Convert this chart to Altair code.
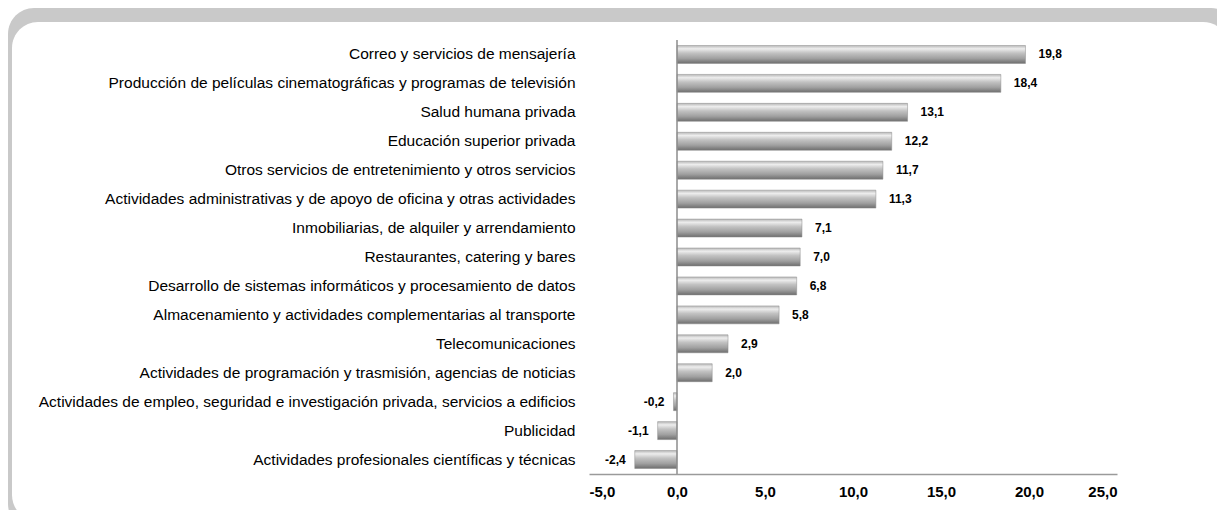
import altair as alt
import pandas as pd

categories = [
    "Correo y servicios de mensajería",
    "Producción de películas cinematográficas y programas de televisión",
    "Salud humana privada",
    "Educación superior privada",
    "Otros servicios de entretenimiento y otros servicios",
    "Actividades administrativas y de apoyo de oficina y otras actividades",
    "Inmobiliarias, de alquiler y arrendamiento",
    "Restaurantes, catering y bares",
    "Desarrollo de sistemas informáticos y procesamiento de datos",
    "Almacenamiento y actividades complementarias al transporte",
    "Telecomunicaciones",
    "Actividades de programación y trasmisión, agencias de noticias",
    "Actividades de empleo, seguridad e investigación privada, servicios a edificios",
    "Publicidad",
    "Actividades profesionales científicas y técnicas",
]
values = [19.8, 18.4, 13.1, 12.2, 11.7, 11.3, 7.1, 7.0, 6.8, 5.8, 2.9, 2.0, -0.2, -1.1, -2.4]
x_ticks = [-5, 0, 5, 10, 15, 20, 25]

df = pd.DataFrame({"cat": categories, "val": values})
df["lab"] = [f"{v:.1f}".replace(".", ",") for v in values]

W, H = 528, 434
PAD = {"left": 581, "top": 32, "right": 100, "bottom": 36}

frame_df = pd.DataFrame({"k": [0]})
outer = alt.Chart(frame_df).mark_rect(color="#c9c9c9", cornerRadius=26).encode(
    x=alt.value(-PAD["left"]), x2=alt.value(W + PAD["right"] + 20),
    y=alt.value(-PAD["top"]), y2=alt.value(H + PAD["bottom"] + 20),
)
inner = alt.Chart(frame_df).mark_rect(color="white", cornerRadius=26).encode(
    x=alt.value(-PAD["left"] + 4), x2=alt.value(W + PAD["right"] + 12),
    y=alt.value(-PAD["top"] + 14), y2=alt.value(H + PAD["bottom"] + 11),
)

xscale = alt.Scale(domain=[-5, 25], nice=False, zero=False)
yscale = alt.Scale(paddingInner=0.38, paddingOuter=0.19)

xaxis = alt.Axis(
    values=x_ticks, title=None, grid=False, ticks=False, zindex=1,
    domainColor="#9a9a9a", domainWidth=1.5,
    labelFont="Liberation Sans", labelFontSize=15, labelFontWeight="bold",
    labelColor="#000000", labelPadding=10,
    labelExpr="replace(replace(format(datum.value, '.1f'), '.', ','), '\u2212', '-')",
)
yaxis = alt.Axis(
    title=None, domain=False, ticks=False, grid=False, zindex=1,
    labelFont="Liberation Sans", labelFontSize=15.5, labelColor="#000000",
    labelPadding=14, labelLimit=0,
)

grad = alt.Gradient(
    gradient="linear", x1=0, y1=0, x2=0, y2=1,
    stops=[
        alt.GradientStop(color="#b8b8b8", offset=0),
        alt.GradientStop(color="#ededed", offset=0.18),
        alt.GradientStop(color="#c2c2c2", offset=0.42),
        alt.GradientStop(color="#a0a0a0", offset=0.72),
        alt.GradientStop(color="#6e6e6e", offset=1),
    ],
)

base = alt.Chart(df)
bars = base.mark_bar(fill=grad, stroke="#8a8a8a", strokeWidth=0.5).encode(
    y=alt.Y("cat:N", sort=None, scale=yscale, axis=yaxis),
    x=alt.X("val:Q", scale=xscale, axis=xaxis),
    x2=alt.datum(0),
)

zero = alt.Chart(frame_df).mark_rule(color="#8c8c8c", strokeWidth=1.5).encode(
    x=alt.datum(0), y=alt.value(0), y2=alt.value(H),
)

pos_txt = base.transform_filter("datum.val >= 0").mark_text(
    align="left", baseline="middle", dx=13, font="Liberation Sans",
    fontSize=12, fontWeight="bold", color="#000000",
).encode(y=alt.Y("cat:N", sort=None), x=alt.X("val:Q"), text="lab:N")

neg_txt = base.transform_filter("datum.val < 0").mark_text(
    align="right", baseline="middle", dx=-9, font="Liberation Sans",
    fontSize=12, fontWeight="bold", color="#000000",
).encode(y=alt.Y("cat:N", sort=None), x=alt.X("val:Q"), text="lab:N")

chart = alt.layer(outer, inner, bars, zero, pos_txt, neg_txt).properties(
    width=W, height=H, padding=PAD,
    autosize=alt.AutoSizeParams(type="none"),
    background="white",
).configure_view(strokeWidth=0)

chart.save("out.html", embed_options={"renderer": "svg", "actions": False})
